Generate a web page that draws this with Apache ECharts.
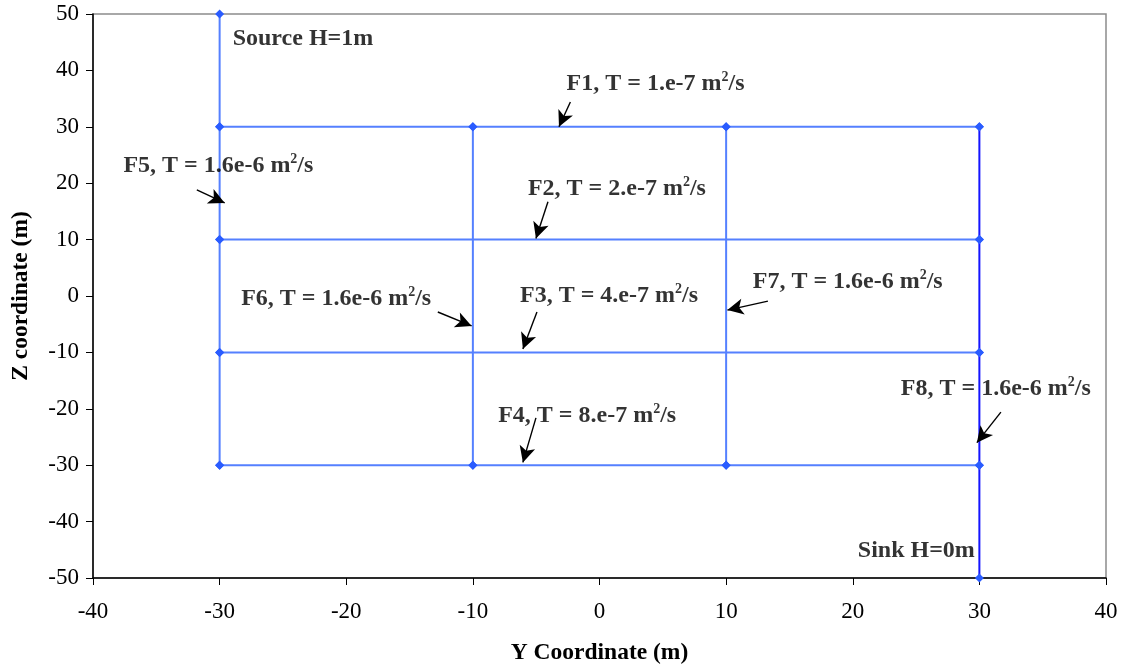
<!DOCTYPE html>
<html>
<head>
<meta charset="utf-8">
<script src="https://cdn.jsdelivr.net/npm/echarts@6/dist/echarts.min.js"></script>
<style>
html,body{margin:0;padding:0;background:#fff;}
#chart{width:1123px;height:670px;}
</style>
</head>
<body>
<div id="chart"></div>
<script>
// ---- data ----
const xAxisName = 'Y Coordinate (m)';
const yAxisName = 'Z coordinate (m)';
const xRange = [-40, 40, 10];
const yRange = [-50, 50, 10];

// fracture traces (y coordinate, z coordinate)
const SourceF5 = [[-30, 50], [-30, 30], [-30, 10], [-30, -10], [-30, -30]];
const F1 = [[-30, 30], [-10, 30], [10, 30], [30, 30]];
const F2 = [[-30, 10], [30, 10]];
const F3 = [[-30, -10], [30, -10]];
const F4 = [[-30, -30], [-10, -30], [10, -30], [30, -30]];
const F6 = [[-10, 30], [-10, -30]];
const F7 = [[10, 30], [10, -30]];
const F8Sink = [[30, 30], [30, 10], [30, -10], [30, -30], [30, -50]];

// annotation labels
const labelTexts = [
  'Source H=1m',
  'F1, T = 1.e-7 m|2|/s',
  'F2, T = 2.e-7 m|2|/s',
  'F3, T = 4.e-7 m|2|/s',
  'F4, T = 8.e-7 m|2|/s',
  'F5, T = 1.6e-6 m|2|/s',
  'F6, T = 1.6e-6 m|2|/s',
  'F7, T = 1.6e-6 m|2|/s',
  'F8, T = 1.6e-6 m|2|/s',
  'Sink H=0m'
];
const labelAnchors = [
  [-28.97, 45.6], [-2.6, 37.6], [-5.65, 19.0], [-6.28, 0.0], [-8.0, -21.3],
  [-37.6, 23.1], [-28.3, -0.5], [12.1, 2.5], [23.8, -16.5], [20.4, -45.2]
];

// annotation arrows: start -> tip
const arrowStarts = [
  [-2.3, 34.4], [-4.07, 16.7], [-4.94, -2.84], [-5.02, -21.6],
  [-31.8, 18.8], [-12.77, -2.84], [13.3, -0.9], [31.7, -20.6]
];
const arrowTips = [
  [-3.2, 30.0], [-5.02, 10.2], [-6.05, -9.4], [-6.05, -29.5],
  [-29.6, 16.5], [-10.1, -5.3], [10.1, -2.5], [29.8, -26.0]
];

// ---- chart ----
const serif = '"Liberation Serif", "Times New Roman", serif';
const lineColor = '#5580ff';
const markerColor = '#2a5cff';

function frac(data, color, mColor) {
  return {
    type: 'line', data: data, symbol: 'diamond', symbolSize: 9,
    showSymbol: true,
    lineStyle: { color: color, width: 2 },
    itemStyle: { color: mColor },
    animation: false, silent: true, z: 3
  };
}

const richStyles = {
  b: { fontFamily: serif, fontWeight: 'bold', fontSize: 24, color: '#000', lineHeight: 27 },
  s: { fontFamily: serif, fontWeight: 'bold', fontSize: 14, color: '#000', verticalAlign: 'top', lineHeight: 27, padding: [0, 0, 10, 0] }
};

function toRich(t) {
  const parts = t.split('|');
  if (parts.length === 1) return '{b|' + t + '}';
  return '{b|' + parts[0] + '}{s|' + parts[1] + '}{b|' + parts[2] + '}';
}

const option = {
  backgroundColor: '#fff',
  grid: { left: 93, right: 17, top: 14, bottom: 92, show: true, borderColor: '#8c8c8c', borderWidth: 1.5 },
  xAxis: {
    type: 'value', min: xRange[0], max: xRange[1], interval: xRange[2],
    name: xAxisName, nameLocation: 'middle', nameGap: 63,
    nameTextStyle: { fontFamily: serif, fontWeight: 'bold', fontSize: 23.5, color: '#000' },
    axisLine: { show: true, onZero: false, lineStyle: { color: '#000', width: 1.5 } },
    axisTick: { show: true, inside: false, length: 7, lineStyle: { color: '#000' } },
    axisLabel: { fontFamily: serif, fontSize: 23, color: '#000', margin: 22 },
    splitLine: { show: false }
  },
  yAxis: {
    type: 'value', min: yRange[0], max: yRange[1], interval: yRange[2],
    name: yAxisName, nameLocation: 'middle', nameGap: 60, nameRotate: 90,
    nameTextStyle: { fontFamily: serif, fontWeight: 'bold', fontSize: 23.5, color: '#000' },
    axisLine: { show: true, onZero: false, lineStyle: { color: '#000', width: 1.5 } },
    axisTick: { show: true, inside: false, length: 7, lineStyle: { color: '#000' } },
    axisLabel: { fontFamily: serif, fontSize: 23, color: '#000', margin: 14 },
    splitLine: { show: false }
  },
  series: [
    frac(SourceF5, lineColor, markerColor),
    frac(F1, lineColor, markerColor),
    frac(F2, lineColor, markerColor),
    frac(F3, lineColor, markerColor),
    frac(F4, lineColor, markerColor),
    frac(F6, lineColor, markerColor),
    frac(F7, lineColor, markerColor),
    frac(F8Sink, '#1414ff', markerColor),
    {
      type: 'scatter', symbolSize: 0, animation: false, silent: true, z: 5,
      data: labelAnchors,
      label: {
        show: true, position: 'right', distance: 0, color: '#000',
        formatter: function (p) { return toRich(labelTexts[p.dataIndex]); },
        rich: richStyles
      },
      markLine: {
        silent: true, animation: false,
        symbol: ['none', 'arrow'], symbolSize: [12, 16],
        label: { show: false },
        lineStyle: { color: '#000', width: 1.4, type: 'solid' },
        data: arrowStarts.map(function (s, i) {
          return [{ coord: s }, { coord: arrowTips[i] }];
        })
      }
    }
  ]
};

const chart = echarts.init(document.getElementById('chart'), null, { renderer: 'canvas' });
chart.setOption(option);
</script>
</body>
</html>
